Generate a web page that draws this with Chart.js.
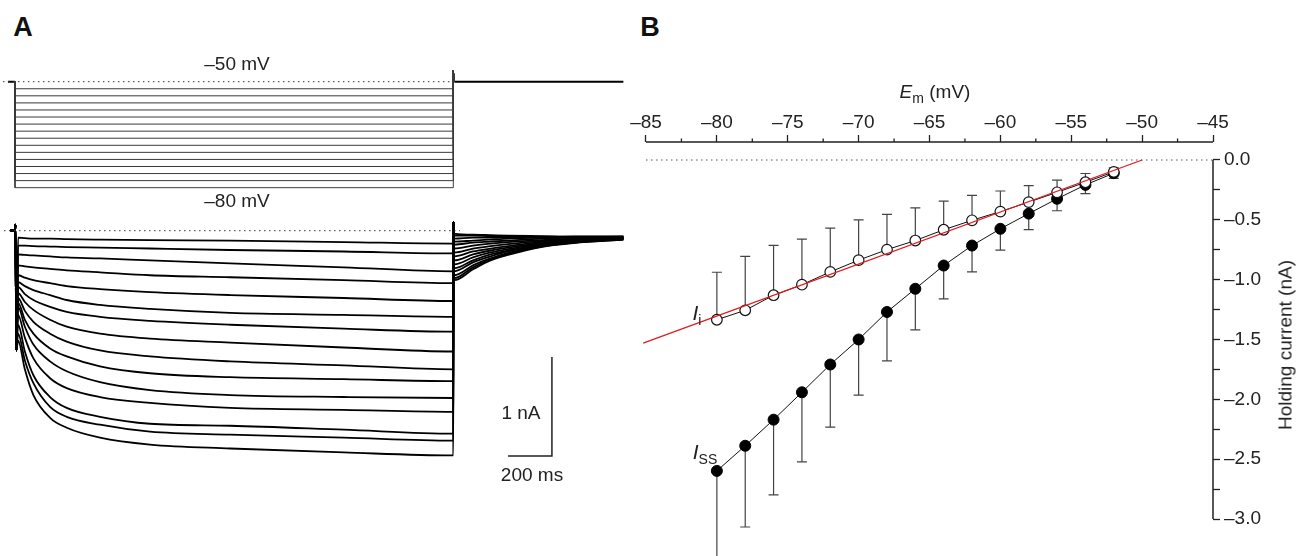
<!DOCTYPE html>
<html>
<head>
<meta charset="utf-8">
<script src="https://cdn.jsdelivr.net/npm/chart.js@4.4.1/dist/chart.umd.min.js"></script>
<style>
body{margin:0;width:1296px;height:556px;background:#fff;position:relative;overflow:hidden;font-family:"Liberation Sans",Arial,sans-serif;color:#222}
canvas{position:absolute}
.t{position:absolute;white-space:nowrap;font-size:19px;line-height:1;color:#222;transform:translate(-50%,-50%)}
.b{font-weight:bold;font-size:27px;color:#111}
.t sub{font-size:14px;vertical-align:-5px;line-height:0}
</style>
</head>
<body>
<canvas id="volt" width="640" height="155" style="left:0;top:50px"></canvas>
<canvas id="curr" width="640" height="255" style="left:0;top:215px"></canvas>
<canvas id="iv" width="696" height="496" style="left:600px;top:60px"></canvas>

<div class="t b" style="left:23px;top:27px">A</div>
<div class="t b" style="left:650px;top:27px">B</div>
<div class="t" style="left:237px;top:63px">–50 mV</div>
<div class="t" style="left:237px;top:200px">–80 mV</div>
<div class="t" style="left:521px;top:412px">1 nA</div>
<div class="t" style="left:532px;top:474px">200 ms</div>
<div class="t" style="left:935px;top:91px"><i>E</i><sub>m</sub> (mV)</div>
<div class="t" style="left:1285px;top:345px;transform:translate(-50%,-50%) rotate(-90deg)">Holding current (nA)</div>
<div class="t" style="left:697px;top:312px;font-size:21px"><i>I</i><sub>i</sub></div>
<div class="t" style="left:705px;top:451px;font-size:21px"><i>I</i><sub>SS</sub></div>

<script>
// ---- panel A: voltage protocol ----
const holdMv = -50;
const stepMv = [-52, -54, -56, -58, -60, -62, -64, -66, -68, -70, -72, -74, -76, -78, -80];
const stepEndMs = 2000;
const traceEndMs = 2776;
const spikeMv = -46.8;

// ---- panel A: current traces (nA, relative to holding current) ----
const stepT = [14, 45, 84, 160, 236, 388, 616, 982, 1500, 2000];
const stepNa = [
  [-0.07, -0.075, -0.08, -0.08, -0.085, -0.09, -0.095, -0.10, -0.115, -0.13],
  [-0.15, -0.15, -0.155, -0.16, -0.165, -0.17, -0.18, -0.195, -0.21, -0.23],
  [-0.24, -0.245, -0.25, -0.26, -0.27, -0.28, -0.30, -0.33, -0.37, -0.41],
  [-0.35, -0.36, -0.37, -0.385, -0.40, -0.42, -0.45, -0.47, -0.50, -0.53],
  [-0.45, -0.475, -0.50, -0.53, -0.56, -0.59, -0.62, -0.65, -0.68, -0.71],
  [-0.52, -0.56, -0.60, -0.65, -0.70, -0.75, -0.79, -0.83, -0.85, -0.87],
  [-0.57, -0.64, -0.70, -0.77, -0.82, -0.87, -0.91, -0.95, -0.99, -1.02],
  [-0.63, -0.72, -0.80, -0.90, -0.97, -1.04, -1.09, -1.13, -1.18, -1.22],
  [-0.68, -0.81, -0.92, -1.04, -1.12, -1.21, -1.27, -1.32, -1.36, -1.40],
  [-0.73, -0.90, -1.04, -1.19, -1.27, -1.37, -1.44, -1.48, -1.50, -1.52],
  [-0.77, -0.97, -1.15, -1.32, -1.42, -1.53, -1.61, -1.66, -1.68, -1.69],
  [-0.85, -1.08, -1.29, -1.49, -1.59, -1.68, -1.74, -1.79, -1.81, -1.83],
  [-0.95, -1.22, -1.46, -1.68, -1.79, -1.88, -1.95, -1.97, -2.01, -2.05],
  [-1.04, -1.31, -1.54, -1.78, -1.88, -1.96, -2.03, -2.06, -2.09, -2.12],
  [-1.11, -1.40, -1.66, -1.89, -1.99, -2.09, -2.16, -2.20, -2.24, -2.27]
];
const tailT = [2004, 2090, 2170, 2250, 2400, 2550, 2776];
const tailNa = [
  [-0.03, -0.04, -0.045, -0.05, -0.055, -0.06, -0.06],
  [-0.05, -0.05, -0.055, -0.055, -0.06, -0.06, -0.06],
  [-0.08, -0.07, -0.07, -0.065, -0.065, -0.06, -0.06],
  [-0.11, -0.10, -0.09, -0.08, -0.07, -0.065, -0.06],
  [-0.14, -0.12, -0.11, -0.10, -0.08, -0.07, -0.065],
  [-0.18, -0.15, -0.13, -0.115, -0.095, -0.08, -0.07],
  [-0.22, -0.18, -0.155, -0.135, -0.105, -0.09, -0.07],
  [-0.26, -0.21, -0.18, -0.155, -0.115, -0.095, -0.075],
  [-0.30, -0.24, -0.20, -0.17, -0.125, -0.10, -0.075],
  [-0.34, -0.27, -0.22, -0.185, -0.135, -0.105, -0.08],
  [-0.38, -0.30, -0.24, -0.20, -0.14, -0.11, -0.08],
  [-0.41, -0.32, -0.26, -0.21, -0.15, -0.115, -0.085],
  [-0.45, -0.35, -0.28, -0.225, -0.155, -0.12, -0.085],
  [-0.48, -0.37, -0.29, -0.235, -0.16, -0.12, -0.09],
  [-0.50, -0.39, -0.30, -0.245, -0.165, -0.125, -0.09]
];
const capUpNa = 0.06;
const capDownNa = -1.21;
const endSpikeNa = 0.09;
const scaleBarMs = 200;
const scaleBarNa = 1;
const scaleBarCorner = {x: 2450, y: -2.276};

// ---- panel B: I-V relation ----
const emMv = [-80, -78, -76, -74, -72, -70, -68, -66, -64, -62, -60, -58, -56, -54, -52];
const iInst = [-1.335, -1.256, -1.13, -1.042, -0.935, -0.837, -0.749, -0.673, -0.583, -0.504, -0.431, -0.352, -0.27, -0.186, -0.099];
const iInstErr = [0.397, 0.45, 0.417, 0.38, 0.366, 0.336, 0.295, 0.273, 0.239, 0.208, 0.172, 0.138, 0.101, 0.073, 0.034];
const iSS = [-2.598, -2.388, -2.17, -1.941, -1.709, -1.5, -1.27, -1.076, -0.882, -0.715, -0.575, -0.448, -0.324, -0.208, -0.11];
const iSSErr = [0.85, 0.679, 0.629, 0.581, 0.523, 0.464, 0.409, 0.343, 0.278, 0.22, 0.178, 0.133, 0.1, 0.073, 0.044];
const fitX = [-85.2, -50];
const fitY = [-1.53, 0];
const xMajor = [-85, -80, -75, -70, -65, -60, -55, -50, -45];
const xMinor = [-82.5, -77.5, -72.5, -67.5, -62.5, -57.5, -52.5, -47.5];
const yTicks = [0, -0.25, -0.5, -0.75, -1, -1.25, -1.5, -1.75, -2, -2.25, -2.5, -2.75, -3];

const FONT = '"Liberation Sans", Arial, sans-serif';
const dash = [1.5, 3.5];
const minus = v => (v < 0 ? '–' : '') + Math.abs(v);

// time axis shared by both traces of panel A
const msMin = -68.45, msMax = 2851.9;
const hidden = {display: false};
const baseOpts = (ymin, ymax) => ({
  responsive: false, animation: false,
  layout: {padding: 0},
  plugins: {legend: hidden, tooltip: {enabled: false}},
  elements: {point: {radius: 0}},
  scales: {
    x: {type: 'linear', min: msMin, max: msMax, display: false},
    y: {type: 'linear', min: ymin, max: ymax, display: false}
  }
});

// voltage
const voltSets = [{
  data: [{x: -55, y: holdMv}, {x: stepEndMs, y: holdMv}],
  borderColor: '#333', borderWidth: 1, borderDash: dash
}];
stepMv.forEach(v => voltSets.push({
  data: [{x: 0, y: holdMv}, {x: 0, y: v}, {x: stepEndMs, y: v}, {x: stepEndMs, y: spikeMv}, {x: stepEndMs + 5, y: holdMv}],
  borderColor: '#3a3a3a', borderWidth: 1
}));
voltSets.push({
  data: [{x: -32, y: holdMv}, {x: 0, y: holdMv}, {x: 1, y: null}, {x: stepEndMs + 5, y: holdMv}, {x: traceEndMs, y: holdMv}],
  borderColor: '#000', borderWidth: 2, spanGaps: false
});
new Chart(document.getElementById('volt'), {type: 'line', data: {datasets: voltSets}, options: baseOpts(-84.9, -41.03)});

// current
const currSets = [{
  data: [{x: -50, y: 0}, {x: 2030, y: 0}],
  borderColor: '#333', borderWidth: 1, borderDash: dash
}];
stepNa.forEach((row, i) => {
  const pts = [{x: -23, y: 0}, {x: 0, y: 0}, {x: 2, y: capUpNa}, {x: 6, y: capDownNa}];
  stepT.forEach((t, j) => pts.push({x: t, y: row[j]}));
  pts.push({x: stepEndMs + 1, y: endSpikeNa});
  tailT.forEach((t, j) => pts.push({x: t, y: tailNa[i][j]}));
  currSets.push({data: pts, borderColor: '#000', borderWidth: 1.8, cubicInterpolationMode: 'monotone'});
});
currSets.push({
  data: [{x: scaleBarCorner.x - scaleBarMs, y: scaleBarCorner.y}, scaleBarCorner, {x: scaleBarCorner.x, y: scaleBarCorner.y + scaleBarNa}],
  borderColor: '#222', borderWidth: 1.5
});
new Chart(document.getElementById('curr'), {type: 'line', data: {datasets: currSets}, options: baseOpts(-2.4172, 0.1586)});

// ---- panel B ----
const ivExtras = {
  id: 'ivExtras',
  beforeDatasetsDraw(chart) {
    const {ctx, scales: {x, y}} = chart;
    ctx.save();
    ctx.strokeStyle = '#444';
    ctx.lineWidth = 1.2;
    const bar = (mv, mean, end) => {
      const px = x.getPixelForValue(mv);
      const y0 = y.getPixelForValue(mean), y1 = y.getPixelForValue(end);
      ctx.beginPath();
      ctx.moveTo(px, y0); ctx.lineTo(px, y1);
      ctx.moveTo(px - 5, y1); ctx.lineTo(px + 5, y1);
      ctx.stroke();
    };
    emMv.forEach((mv, i) => {
      bar(mv, iInst[i], iInst[i] + iInstErr[i]);
      bar(mv, iSS[i], iSS[i] - iSSErr[i]);
    });
    ctx.restore();
  },
  afterDraw(chart) {
    const {ctx, chartArea, scales: {x, y}} = chart;
    ctx.save();
    ctx.strokeStyle = '#222';
    ctx.lineWidth = 1.5;
    ctx.beginPath();
    ctx.moveTo(x.getPixelForValue(xMajor[0]), chartArea.top);
    ctx.lineTo(x.getPixelForValue(xMajor[xMajor.length - 1]), chartArea.top);
    const yr = x.getPixelForValue(xMajor[xMajor.length - 1]);
    ctx.moveTo(yr, y.getPixelForValue(yTicks[0]));
    ctx.lineTo(yr, y.getPixelForValue(yTicks[yTicks.length - 1]));
    ctx.stroke();
    ctx.lineWidth = 1.3;
    ctx.beginPath();
    xMinor.forEach(v => {
      const px = x.getPixelForValue(v);
      ctx.moveTo(px, chartArea.top); ctx.lineTo(px, chartArea.top - 3.5);
    });
    ctx.stroke();
    ctx.restore();
  }
};

const noPad = s => { s.paddingTop = 0; s.paddingBottom = 0; s.paddingLeft = 0; s.paddingRight = 0; };

const ivChart = new Chart(document.getElementById('iv'), {
  type: 'line',
  data: {
    datasets: [
      {data: fitX.map((v, i) => ({x: v, y: fitY[i]})), borderColor: '#e3191c', borderWidth: 1.3, pointRadius: 0, order: 0, clip: false},
      {data: emMv.map((v, i) => ({x: v, y: iInst[i]})), borderColor: '#111', borderWidth: 1,
       pointRadius: 5.3, pointBackgroundColor: '#fff', pointBorderColor: '#111', pointBorderWidth: 1.2, order: 1, clip: false},
      {data: emMv.map((v, i) => ({x: v, y: iSS[i]})), borderColor: '#111', borderWidth: 1,
       pointRadius: 5.5, pointBackgroundColor: '#000', pointBorderColor: '#000', pointBorderWidth: 1, order: 2, clip: false},
      {data: [{x: xMajor[0], y: 0}, {x: xMajor[xMajor.length - 1], y: 0}], borderColor: '#555', borderWidth: 1, borderDash: dash, pointRadius: 0, order: 3}
    ]
  },
  options: {
    responsive: false, animation: false,
    layout: {padding: {left: 40, top: 0, right: 0, bottom: 0}},
    plugins: {legend: hidden, tooltip: {enabled: false}},
    scales: {
      x: {
        type: 'linear', position: 'top', min: -85, max: -45,
        afterFit: s => { s.height = 82; noPad(s); },
        afterBuildTicks: s => { s.ticks = xMajor.map(v => ({value: v})); },
        ticks: {color: '#222', padding: 1, maxRotation: 0, font: {size: 19, family: FONT}, callback: v => minus(v)},
        grid: {drawOnChartArea: false, tickLength: 7, color: '#222', tickWidth: 1.3},
        border: {display: false}
      },
      y: {
        type: 'linear', position: 'right', min: -3.328, max: 0.151,
        afterFit: s => { s.width = 83; noPad(s); },
        afterBuildTicks: s => { s.ticks = yTicks.map(v => ({value: v})); },
        ticks: {color: '#222', padding: 4, font: {size: 19, family: FONT},
          callback: v => (Math.abs(v * 2 - Math.round(v * 2)) < 1e-6 ? (v < 0 ? '–' : '') + Math.abs(v).toFixed(1) : '')},
        grid: {drawOnChartArea: false, tickLength: 7, color: '#222', tickWidth: 1.3},
        border: {display: false}
      }
    }
  },
  plugins: [ivExtras]
});

// pin the axis ends to where they sit in the figure (canvas pixels)
const pin = {xLeft: 46, xRight: 613, yZero: 100, yMinus3: 459};
(() => {
  const ca = ivChart.chartArea;
  const kx = (pin.xRight - pin.xLeft) / (xMajor[xMajor.length - 1] - xMajor[0]);
  const ky = (pin.yMinus3 - pin.yZero) / (yTicks[0] - yTicks[yTicks.length - 1]);
  const sx = ivChart.options.scales.x, sy = ivChart.options.scales.y;
  sx.min = xMajor[0] - (pin.xLeft - ca.left) / kx;
  sx.max = xMajor[xMajor.length - 1] + (ca.right - pin.xRight) / kx;
  sy.max = (pin.yZero - ca.top) / ky;
  sy.min = yTicks[yTicks.length - 1] - (ca.bottom - pin.yMinus3) / ky;
  ivChart.update('none');
})();
</script>
</body>
</html>
